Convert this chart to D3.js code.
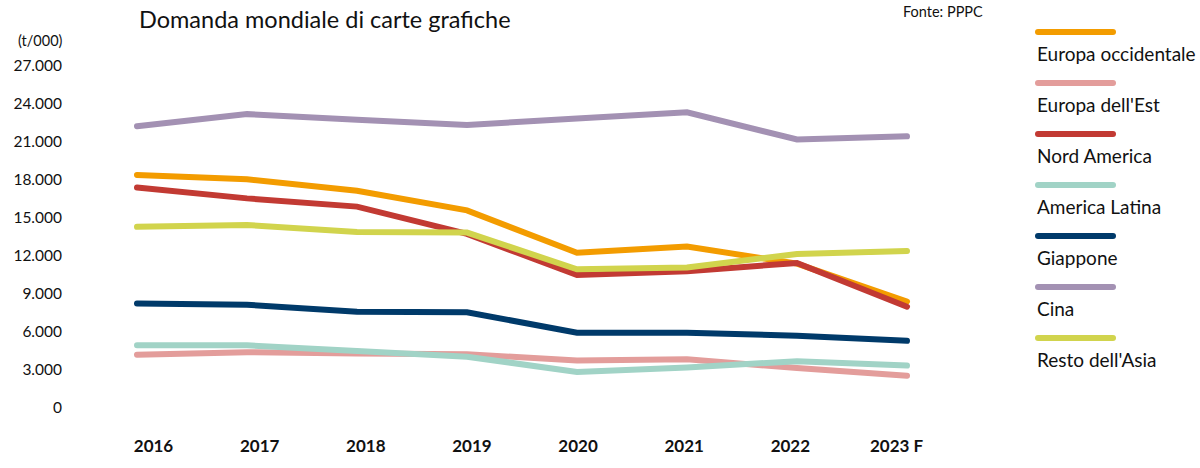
<!DOCTYPE html>
<html>
<head>
<meta charset="utf-8">
<script src="https://cdn.jsdelivr.net/npm/d3@7"></script>
<style>
  html, body { margin: 0; padding: 0; background: #fff; }
  svg { display: block; font-family: "Lato", "Noto Sans", sans-serif; }
</style>
</head>
<body>
<svg id="chart" width="1200" height="468"></svg>
<script>
const years = ["2016", "2017", "2018", "2019", "2020", "2021", "2022", "2023 F"];
const yTicks = [0, 3000, 6000, 9000, 12000, 15000, 18000, 21000, 24000, 27000];

const seriesNames = ["Europa occidentale", "Europa dell'Est", "Nord America", "America Latina", "Giappone", "Cina", "Resto dell'Asia"];
const seriesColors = ["#F39C00", "#E39D9B", "#C23A33", "#A1D3C6", "#003A6A", "#A391B3", "#D1D44D"];

const europaOccidentale = [18400, 18050, 17150, 15600, 12250, 12750, 11400, 8400];
const europaEst        = [4200, 4400, 4300, 4250, 3750, 3850, 3150, 2550];
const nordAmerica      = [17400, 16550, 15900, 13750, 10500, 10800, 11450, 8000];
const americaLatina    = [4950, 4950, 4500, 4050, 2850, 3200, 3700, 3350];
const giappone         = [8250, 8150, 7600, 7550, 5950, 5950, 5700, 5300];
const cina             = [22250, 23200, 22750, 22350, 22850, 23350, 21200, 21450];
const restoAsia        = [14300, 14450, 13900, 13850, 10950, 11100, 12150, 12400];

const seriesValues = [europaOccidentale, europaEst, nordAmerica, americaLatina, giappone, cina, restoAsia];
// draw order (back to front)
const drawOrder = [5, 1, 3, 4, 0, 2, 6];

const svg = d3.select("#chart");

const x = d3.scalePoint().domain(years).range([137, 907]);
const xLabel = d3.scalePoint().domain(years).range([153, 896]);
const y = d3.scaleLinear().domain([0, 27000]).range([408, 66]);

const fmt = v => d3.format(",")(v).replace(/,/g, ".");

// Title
svg.append("text")
  .attr("x", 139).attr("y", 28)
  .attr("font-size", 23.5)
  .attr("fill", "#111")
  .text("Domanda mondiale di carte grafiche");

svg.append("text")
  .attr("x", 903).attr("y", 17)
  .attr("font-size", 14.5)
  .attr("fill", "#111")
  .text("Fonte: PPPC");

svg.append("text")
  .attr("x", 18).attr("y", 46)
  .attr("font-size", 14.5)
  .attr("fill", "#111")
  .text("(t/000)");

// Y axis
const yAxis = d3.axisLeft(y).tickValues(yTicks).tickFormat(fmt).tickSize(0).tickPadding(0);
const gy = svg.append("g").attr("transform", "translate(62,0)").call(yAxis);
gy.select(".domain").remove();
gy.selectAll("text")
  .attr("font-family", "Lato, 'Noto Sans', sans-serif")
  .attr("font-size", 15.5)
  .attr("fill", "#111");

// X axis
const xAxis = d3.axisBottom(xLabel).tickSize(0).tickPadding(0);
const gx = svg.append("g").attr("transform", "translate(0,440)").call(xAxis);
gx.select(".domain").remove();
gx.selectAll("text")
  .attr("font-family", "Lato, 'Noto Sans', sans-serif")
  .attr("font-size", 17)
  .attr("font-weight", "bold")
  .attr("fill", "#111");

// Lines
const line = d3.line()
  .x((d, i) => x(years[i]))
  .y(d => y(d));

svg.append("g").selectAll("path")
  .data(drawOrder)
  .join("path")
  .attr("d", k => line(seriesValues[k]))
  .attr("fill", "none")
  .attr("stroke", k => seriesColors[k])
  .attr("stroke-width", 6)
  .attr("stroke-linecap", "round")
  .attr("stroke-linejoin", "miter");

// Legend
const leg = svg.append("g");
const legY = d3.scaleLinear().domain([0, 1]).range([32, 83]);
seriesNames.forEach((name, i) => {
  const g = leg.append("g").attr("transform", `translate(0,${legY(i)})`);
  g.append("line")
    .attr("x1", 1038).attr("x2", 1113)
    .attr("y1", 0).attr("y2", 0)
    .attr("stroke", seriesColors[i])
    .attr("stroke-width", 6)
    .attr("stroke-linecap", "round");
  g.append("text")
    .attr("x", 1037).attr("y", 29)
    .attr("font-size", 19)
    .attr("fill", "#111")
    .text(name);
});
</script>
</body>
</html>
